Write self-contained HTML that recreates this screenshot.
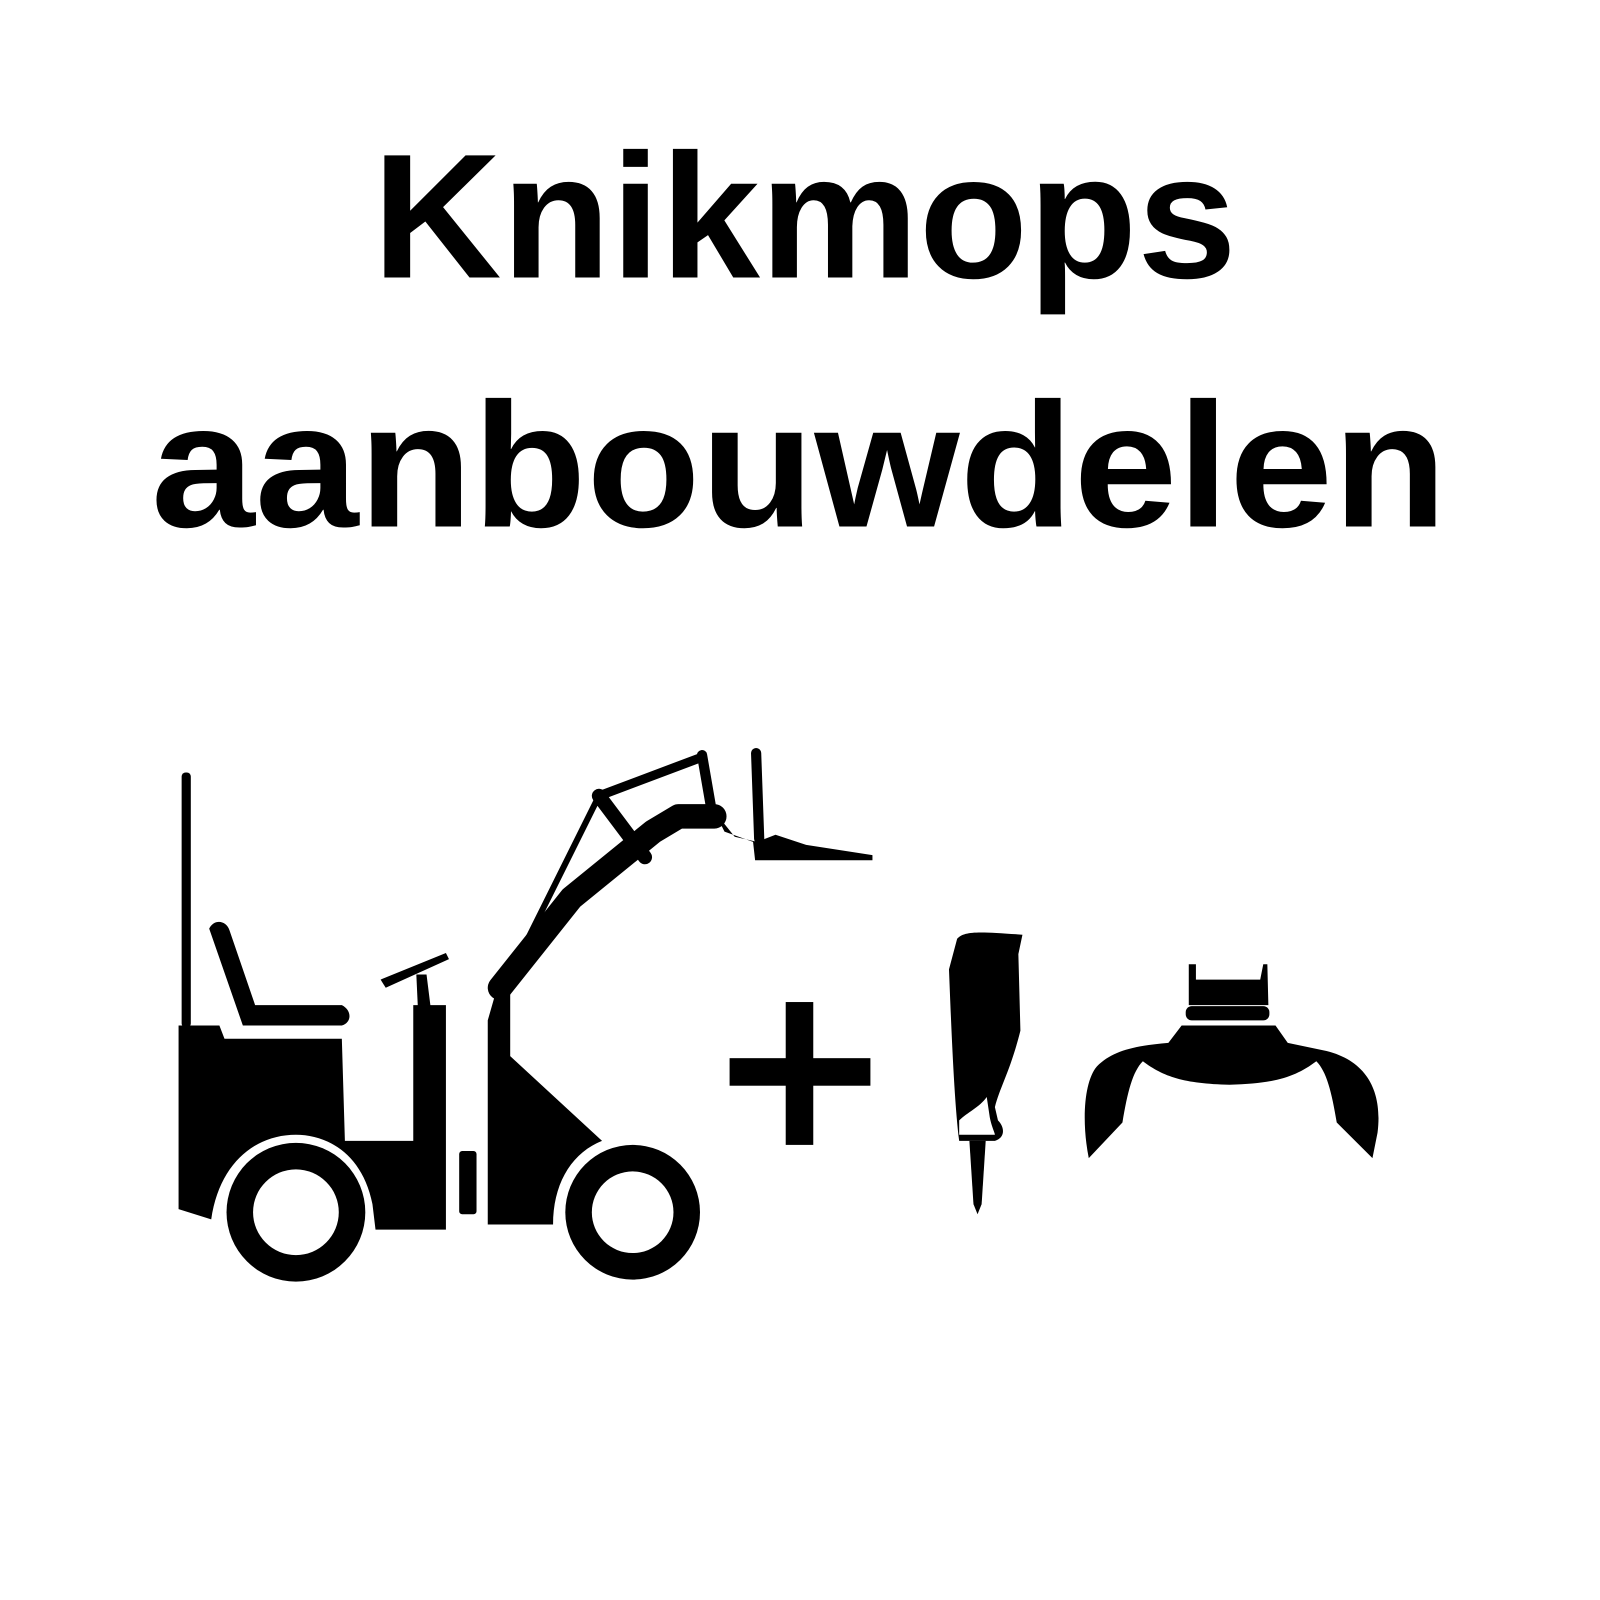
<!DOCTYPE html>
<html><head><meta charset="utf-8"><style>
html,body{margin:0;padding:0;background:#fff;}
svg{display:block;}
</style></head><body>
<svg width="1600" height="1600" viewBox="0 0 1568 1568" xmlns="http://www.w3.org/2000/svg">
<rect width="1568" height="1568" fill="#fff"/>
<g font-family="Liberation Sans, sans-serif" font-weight="bold" fill="#000" font-size="174">
<text x="365" y="272" textLength="847" lengthAdjust="spacingAndGlyphs">Knikmops</text>
<text x="148" y="516" textLength="1270" lengthAdjust="spacingAndGlyphs">aanbouwdelen</text>
</g>
<g fill="#000" stroke="none">
<rect x="178" y="757" width="9" height="250" rx="4"/>
<path d="M175 1005 L215 1005 L220 1018 L335 1018 L338 1118 L405 1118 L405 985 L437 985 L437 1205 L368 1205 L365 1180 C355 1130 320 1112 290 1112 C250 1112 215 1140 207 1195 L175 1185 Z"/>
<rect x="450" y="1128" width="17" height="62" rx="3"/>
<path d="M478 1000 L488 965 L500 960 L500 1035 L590 1118 C560 1130 542 1160 542 1200 L478 1200 Z"/>
<path d="M205 910 C210 900 222 902 225 912 L250 985 L335 985 C345 990 345 1002 335 1005 L238 1005 Z"/>
<path d="M373 960 L437 934 L440 940 L378 968 Z"/>
<path d="M408 955 L418 955 L423 995 L410 998 Z"/>
<circle cx="290" cy="1188" r="68"/>
<circle cx="290" cy="1188" r="42" fill="#fff"/>
<circle cx="620" cy="1188" r="66"/>
<circle cx="620" cy="1188" r="40" fill="#fff"/>
<rect x="770" y="982" width="27" height="140"/>
<rect x="715" y="1037" width="138" height="27"/>
<path d="M938 920 C945 912 960 913 1002 916 L998 935 L1000 1010 C990 1050 980 1065 975 1085 L978 1098 C985 1105 985 1115 975 1118 L940 1118 C935 1080 932 1000 930 950 Z"/>
<path d="M950 1118 L966 1118 L962 1180 L958 1190 L954 1180 Z"/>
</g>
<path d="M940 1112 L940 1098 C948 1090 960 1085 967 1075 L970 1095 C972 1105 975 1110 975 1112 Z" fill="#fff"/>
<g fill="none" stroke="#000" stroke-linecap="round" stroke-linejoin="round">
<path d="M490 968 L560 880 L640 815 L665 800 L700 800" stroke-width="24"/>
<path d="M500 955 L587 780" stroke-width="6"/>
<path d="M587 780 L688 742" stroke-width="9"/>
<path d="M587 780 L632 840" stroke-width="14"/>
<path d="M688 740 L697 792" stroke-width="10"/>
<path d="M741 738 L744 822" stroke-width="10"/>
</g>
<path d="M700 795 L720 820 L742 825 L760 818 L790 828 L855 838 L855 843 L740 843 L738 825 L710 815 Z" fill="#000"/>
<g fill="#000">
<path d="M1165 945 L1172 945 L1172 960 L1235 960 L1238 945 L1242 945 L1243 985 L1165 985 Z"/>
<rect x="1162" y="986" width="82" height="14" rx="6"/>
<path d="M1158 1005 L1250 1005 L1262 1022 L1300 1030 C1340 1040 1355 1070 1350 1110 L1345 1135 L1310 1100 C1305 1070 1300 1050 1290 1040 C1270 1055 1250 1062 1205 1063 C1160 1062 1140 1055 1120 1040 C1110 1050 1105 1070 1100 1100 L1067 1135 C1060 1100 1062 1060 1075 1045 C1090 1030 1110 1025 1145 1022 Z"/>
</g>
</svg>
</body></html>
